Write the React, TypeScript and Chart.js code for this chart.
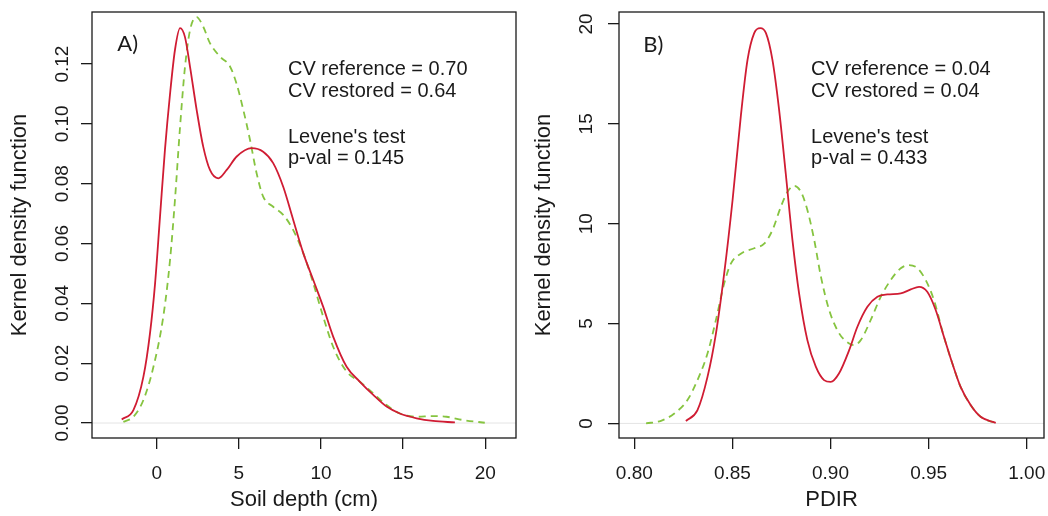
import React, { useEffect, useRef } from "react";
import { Chart, registerables } from "chart.js";

Chart.register(...registerables);

// ---------- Panel A: Soil depth ----------
const A_X_TICKS = [0, 5, 10, 15, 20];
const A_X_LABELS = ["0", "5", "10", "15", "20"];
const A_Y_TICKS = [0, 0.02, 0.04, 0.06, 0.08, 0.1, 0.12];
const A_Y_LABELS = ["0.00", "0.02", "0.04", "0.06", "0.08", "0.10", "0.12"];

const A_REF_X = [-2.13, -1.42, -0.81, -0.41, -0.1, 0.2, 0.5, 0.81, 1.11, 1.42, 1.72, 2.03, 2.43, 2.83, 3.24, 3.75, 4.26, 4.87, 5.78, 6.48, 7.09, 7.7, 8.31, 8.92, 9.53, 10.13, 10.74, 11.56, 12.37, 13.18, 13.99, 14.8, 15.82, 16.82, 18.15];
const A_REF_Y = [0.0012, 0.0043, 0.0155, 0.03, 0.0467, 0.069, 0.0913, 0.11, 0.1247, 0.132, 0.129, 0.119, 0.1047, 0.0924, 0.0846, 0.0818, 0.0846, 0.0891, 0.0919, 0.0907, 0.0869, 0.079, 0.0679, 0.0568, 0.0478, 0.0389, 0.0289, 0.0188, 0.0138, 0.0094, 0.0055, 0.0032, 0.0016, 0.0007, 0.0002];

const A_RES_X = [-2.03, -1.42, -0.81, -0.2, 0.4, 0.81, 1.11, 1.42, 1.72, 2.03, 2.43, 2.83, 3.24, 3.85, 4.46, 4.85, 5.27, 5.68, 6.08, 6.48, 7.09, 7.7, 8.31, 8.92, 9.53, 10.13, 10.74, 11.56, 12.37, 13.18, 13.99, 14.8, 15.82, 16.82, 17.64, 18.65, 19.97];
const A_RES_Y = [0.0004, 0.0021, 0.0077, 0.0188, 0.0356, 0.0545, 0.0746, 0.099, 0.119, 0.1314, 0.1357, 0.1325, 0.127, 0.1225, 0.1192, 0.1136, 0.1047, 0.0946, 0.0835, 0.0757, 0.0723, 0.0696, 0.0645, 0.0568, 0.0467, 0.0356, 0.0255, 0.0172, 0.0138, 0.0099, 0.006, 0.0032, 0.0021, 0.0023, 0.0021, 0.001, 0.0001];

const A_TEXTS = ["CV reference = 0.70", "CV restored = 0.64", "Levene's test", "p-val = 0.145"];

// ---------- Panel B: PDIR ----------
const B_X_TICKS = [0.8, 0.85, 0.9, 0.95, 1.0];
const B_X_LABELS = ["0.80", "0.85", "0.90", "0.95", "1.00"];
const B_Y_TICKS = [0, 5, 10, 15, 20];
const B_Y_LABELS = ["0", "5", "10", "15", "20"];

const B_REF_X = [0.8263, 0.8322, 0.8373, 0.8416, 0.8458, 0.8501, 0.8543, 0.8577, 0.8611, 0.8642, 0.8671, 0.8704, 0.8738, 0.8772, 0.8806, 0.884, 0.8882, 0.8925, 0.8967, 0.9001, 0.9043, 0.9095, 0.9137, 0.9188, 0.9239, 0.929, 0.9358, 0.9409, 0.9451, 0.9493, 0.9536, 0.9578, 0.9621, 0.9663, 0.9714, 0.9765, 0.9842];
const B_REF_Y = [0.12, 0.67, 2.33, 4.5, 7.5, 11.2, 15.4, 18.2, 19.54, 19.79, 19.54, 18.2, 15.7, 12.5, 9.18, 6.5, 4.17, 2.84, 2.17, 2.08, 2.5, 3.67, 4.84, 5.84, 6.34, 6.46, 6.51, 6.71, 6.84, 6.59, 5.68, 4.34, 3.0, 1.83, 0.92, 0.33, 0.03];

const B_RES_X = [0.806, 0.8136, 0.8204, 0.8271, 0.8322, 0.8373, 0.8416, 0.8458, 0.8492, 0.8543, 0.8611, 0.8662, 0.8704, 0.8747, 0.8781, 0.8815, 0.8849, 0.8882, 0.8917, 0.8951, 0.8993, 0.9044, 0.9095, 0.912, 0.9154, 0.9205, 0.9256, 0.9307, 0.9358, 0.94, 0.9443, 0.9485, 0.9527, 0.9578, 0.9621, 0.9663, 0.9714, 0.9765, 0.9842];
const B_RES_Y = [0.0, 0.13, 0.5, 1.17, 2.17, 3.5, 5.18, 7.0, 8.0, 8.5, 8.77, 9.0, 9.68, 10.85, 11.6, 11.9, 11.6, 10.69, 9.18, 7.35, 5.68, 4.51, 4.0, 3.92, 4.17, 5.18, 6.34, 7.18, 7.77, 7.93, 7.77, 7.18, 6.18, 4.34, 3.0, 1.83, 0.92, 0.33, 0.03];

const B_TEXTS = ["CV reference = 0.04", "CV restored = 0.04", "Levene's test", "p-val = 0.433"];

const FONT = "'Liberation Sans', Arial, Helvetica, sans-serif";
const INK = "#1a1a1a";
const RED = "#d01c33";
const GREEN = "#86c440";

const toPts = (xs: number[], ys: number[]) => xs.map((x, i) => ({ x, y: ys[i] }));

const framePlugin = {
  id: "rframe",
  beforeDatasetsDraw(chart: any) {
    const { ctx, chartArea } = chart;
    const y0 = chart.scales.y.getPixelForValue(0);
    ctx.save();
    ctx.strokeStyle = "#e4e4e4";
    ctx.lineWidth = 1;
    ctx.beginPath();
    ctx.moveTo(chartArea.left, y0);
    ctx.lineTo(chartArea.right, y0);
    ctx.stroke();
    ctx.restore();
  },
  afterDraw(chart: any, _args: any, opts: any) {
    const { ctx, chartArea } = chart;
    const xs = chart.scales.x;
    const ys = chart.scales.y;
    ctx.save();
    ctx.strokeStyle = INK;
    ctx.lineWidth = 1.3;
    ctx.strokeRect(chartArea.left, chartArea.top, chartArea.right - chartArea.left, chartArea.bottom - chartArea.top);
    ctx.fillStyle = INK;
    ctx.textBaseline = "alphabetic";
    ctx.textAlign = "left";
    ctx.font = `22px Lato, 'Open Sans', sans-serif`;
    ctx.fillText(opts.panel, xs.getPixelForValue(opts.panelX), ys.getPixelForValue(opts.panelY));
    ctx.font = `20px ${FONT}`;
    opts.texts.forEach((t: string, i: number) => {
      ctx.fillText(t, xs.getPixelForValue(opts.textX), ys.getPixelForValue(opts.textY[i]));
    });
    ctx.restore();
  },
};

type PanelCfg = {
  xMin: number; xMax: number; yMin: number; yMax: number;
  xTicks: number[]; xLabels: string[]; yTicks: number[]; yLabels: string[];
  ref: { x: number; y: number }[]; res: { x: number; y: number }[];
  xTitle: string; yWidth: number; yPad: number; padRight: number;
  panel: string; panelX: number; panelY: number;
  texts: string[]; textX: number; textY: number[];
};

function Panel({ cfg }: { cfg: PanelCfg }) {
  const ref = useRef<HTMLCanvasElement | null>(null);
  useEffect(() => {
    const chart = new Chart(ref.current as HTMLCanvasElement, {
      type: "line",
      data: {
        datasets: [
          {
            label: "reference",
            data: cfg.ref,
            borderColor: RED,
            borderWidth: 1.8,
            pointRadius: 0,
            cubicInterpolationMode: "monotone",
            fill: false,
          },
          {
            label: "restored",
            data: cfg.res,
            borderColor: GREEN,
            borderWidth: 1.8,
            borderDash: [7, 5],
            pointRadius: 0,
            cubicInterpolationMode: "monotone",
            fill: false,
          },
        ],
      },
      options: {
        responsive: false,
        animation: false,
        events: [],
        layout: { padding: { top: 12, right: cfg.padRight, left: 0, bottom: 0 } },
        plugins: {
          legend: { display: false },
          tooltip: { enabled: false },
          rframe: {
            panel: cfg.panel, panelX: cfg.panelX, panelY: cfg.panelY,
            texts: cfg.texts, textX: cfg.textX, textY: cfg.textY,
          },
        } as any,
        scales: {
          x: {
            type: "linear",
            min: cfg.xMin,
            max: cfg.xMax,
            afterBuildTicks: (s: any) => { s.ticks = cfg.xTicks.map((v) => ({ value: v })); },
            afterFit: (s: any) => { s.height = 78; s.paddingLeft = 0; s.paddingRight = 0; },
            grid: { display: true, drawOnChartArea: false, drawTicks: true, tickLength: 11, color: INK, lineWidth: 1.3 },
            border: { display: false },
            ticks: {
              autoSkip: false, maxRotation: 0, minRotation: 0, padding: 13, color: INK,
              font: { family: FONT, size: 19 },
              callback: (_v: any, i: number) => cfg.xLabels[i],
            },
            title: { display: true, text: cfg.xTitle, color: INK, font: { family: FONT, size: 22 }, padding: { top: 0, bottom: 3 } },
          },
          y: {
            type: "linear",
            min: cfg.yMin,
            max: cfg.yMax,
            afterBuildTicks: (s: any) => { s.ticks = cfg.yTicks.map((v) => ({ value: v })); },
            afterFit: (s: any) => { s.width = cfg.yWidth; s.paddingTop = 0; s.paddingBottom = 0; },
            grid: { display: true, drawOnChartArea: false, drawTicks: true, tickLength: 11, color: INK, lineWidth: 1.3 },
            border: { display: false },
            ticks: {
              autoSkip: false, minRotation: 90, maxRotation: 90, padding: cfg.yPad, crossAlign: "center", color: INK,
              font: { family: FONT, size: 19 },
              callback: (_v: any, i: number) => cfg.yLabels[i],
            },
            title: { display: true, text: "Kernel density function", color: INK, font: { family: FONT, size: 22 }, padding: { top: 7, bottom: 0 } },
          },
        },
      } as any,
      plugins: [framePlugin],
    });
    return () => chart.destroy();
  }, [cfg]);
  return (
    <div style={{ width: 524, height: 516, position: "relative" }}>
      <canvas ref={ref} width={524} height={516} style={{ display: "block" }} />
    </div>
  );
}

const PANEL_A: PanelCfg = {
  xMin: -3.94, xMax: 21.87, yMin: -0.005, yMax: 0.1374,
  xTicks: A_X_TICKS, xLabels: A_X_LABELS, yTicks: A_Y_TICKS, yLabels: A_Y_LABELS,
  ref: toPts(A_REF_X, A_REF_Y), res: toPts(A_RES_X, A_RES_Y),
  xTitle: "Soil depth (cm)", yWidth: 92, yPad: 0, padRight: 8,
  panel: "A)", panelX: -2.4, panelY: 0.1242,
  texts: A_TEXTS, textX: 7.99, textY: [0.1164, 0.1089, 0.0937, 0.0865],
};

const PANEL_B: PanelCfg = {
  xMin: 0.7922, xMax: 1.0088, yMin: -0.73, yMax: 20.6,
  xTicks: B_X_TICKS, xLabels: B_X_LABELS, yTicks: B_Y_TICKS, yLabels: B_Y_LABELS,
  ref: toPts(B_REF_X, B_REF_Y), res: toPts(B_RES_X, B_RES_Y),
  xTitle: "PDIR", yWidth: 95, yPad: 11, padRight: 4,
  panel: "B)", panelX: 0.8046, panelY: 18.62,
  texts: B_TEXTS, textX: 0.8901, textY: [17.45, 16.33, 14.06, 12.98],
};

export default function App() {
  return (
    <div style={{ position: "absolute", left: 0, top: 0, width: 1048, height: 516, display: "flex", background: "#fff" }}>
      <Panel cfg={PANEL_A} />
      <Panel cfg={PANEL_B} />
    </div>
  );
}
